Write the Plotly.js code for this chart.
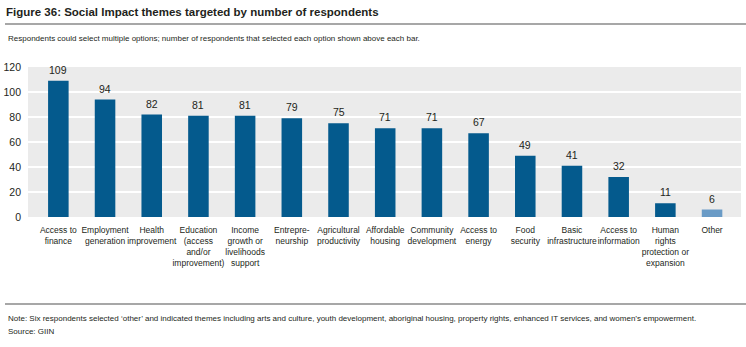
<!DOCTYPE html>
<html>
<head>
<meta charset="utf-8">
<script src="https://cdn.plot.ly/plotly-3.0.1.min.js"></script>
<style>html,body{margin:0;padding:0;background:#fff;}#chart{width:746px;height:347px;}</style>
</head>
<body>
<div id="chart"></div>
<script>
const categories = [
  "Access to<br>finance",
  "Employment<br>generation",
  "Health<br>improvement",
  "Education<br>(access<br>and/or<br>improvement)",
  "Income<br>growth or<br>livelihoods<br>support",
  "Entrepre-<br>neurship",
  "Agricultural<br>productivity",
  "Affordable<br>housing",
  "Community<br>development",
  "Access to<br>energy",
  "Food<br>security",
  "Basic<br>infrastructure",
  "Access to<br>information",
  "Human<br>rights<br>protection or<br>expansion",
  "Other"
];
const respondents = [109, 94, 82, 81, 81, 79, 75, 71, 71, 67, 49, 41, 32, 11, 6];
const barColors = ["#045a8d","#045a8d","#045a8d","#045a8d","#045a8d","#045a8d","#045a8d","#045a8d","#045a8d","#045a8d","#045a8d","#045a8d","#045a8d","#045a8d","#6a9bc6"];
const yTicks = [0, 20, 40, 60, 80, 100, 120];

const FONT = '"Liberation Sans Narrow", "Liberation Sans", Arial, sans-serif';
const TXT = '#231f20';

const trace = {
  type: 'bar',
  x: categories,
  y: respondents,
  marker: {color: barColors},
  width: 0.44,
  hoverinfo: 'none'
};

const valueLabels = categories.map((c, i) => ({
  x: c, y: respondents[i], xref: 'x', yref: 'y',
  text: String(respondents[i]), showarrow: false,
  yanchor: 'bottom', yshift: 3,
  font: {family: FONT, size: 10.5, color: TXT}
}));

const layout = {
  width: 746, height: 347,
  margin: {l: 28, r: 5, t: 67, b: 130},
  paper_bgcolor: '#ffffff',
  plot_bgcolor: '#ebebeb',
  showlegend: false,
  font: {family: FONT, color: TXT},
  title: {
    text: '<b>Figure 36: Social Impact themes targeted by number of respondents</b>',
    xref: 'container', yref: 'container',
    x: 6/746, xanchor: 'left', y: 1 - 12/347, yanchor: 'middle',
    font: {family: FONT, size: 11.5, color: TXT}
  },
  xaxis: {
    type: 'category',
    range: [-0.65, 14.62],
    showgrid: false, zeroline: false, showline: false,
    ticks: '', tickfont: {family: FONT, size: 8.5, color: TXT},
    tickangle: 0, ticklabelstandoff: 6, fixedrange: true
  },
  yaxis: {
    range: [0, 120],
    tickvals: yTicks,
    ticktext: yTicks.map(String),
    showgrid: true, gridcolor: '#ffffff', gridwidth: 1.5,
    zeroline: false, showline: false, ticks: '',
    tickfont: {family: FONT, size: 10.5, color: TXT},
    ticklabelstandoff: 6,
    fixedrange: true
  },
  shapes: [
    {type: 'line', xref: 'paper', yref: 'paper', x0: -23/713, x1: 718/713, y0: (217-24)/150, y1: (217-24)/150,
     line: {color: '#8a8a8a', width: 1.5}},
    {type: 'line', xref: 'paper', yref: 'paper', x0: -23/713, x1: 718/713, y0: (217-304)/150, y1: (217-304)/150,
     line: {color: '#8a8a8a', width: 1.5}}
  ],
  annotations: valueLabels.concat([
    {xref: 'paper', yref: 'paper', x: -22/713, y: (217-39)/150, xanchor: 'left', yanchor: 'middle', showarrow: false,
     text: 'Respondents could select multiple options; number of respondents that selected each option shown above each bar.',
     font: {family: FONT, size: 8, color: TXT}},
    {xref: 'paper', yref: 'paper', x: -22/713, y: (217-318)/150, xanchor: 'left', yanchor: 'middle', showarrow: false,
     text: 'Note: Six respondents selected \u2018other\u2019 and indicated themes including arts and culture, youth development, aboriginal housing, property rights, enhanced IT services, and women\u2019s empowerment.',
     font: {family: FONT, size: 8, color: TXT}},
    {xref: 'paper', yref: 'paper', x: -22/713, y: (217-331)/150, xanchor: 'left', yanchor: 'middle', showarrow: false,
     text: 'Source: GIIN',
     font: {family: FONT, size: 8, color: TXT}}
  ])
};

Plotly.newPlot('chart', [trace], layout, {displayModeBar: false, staticPlot: true});
</script>
</body>
</html>
